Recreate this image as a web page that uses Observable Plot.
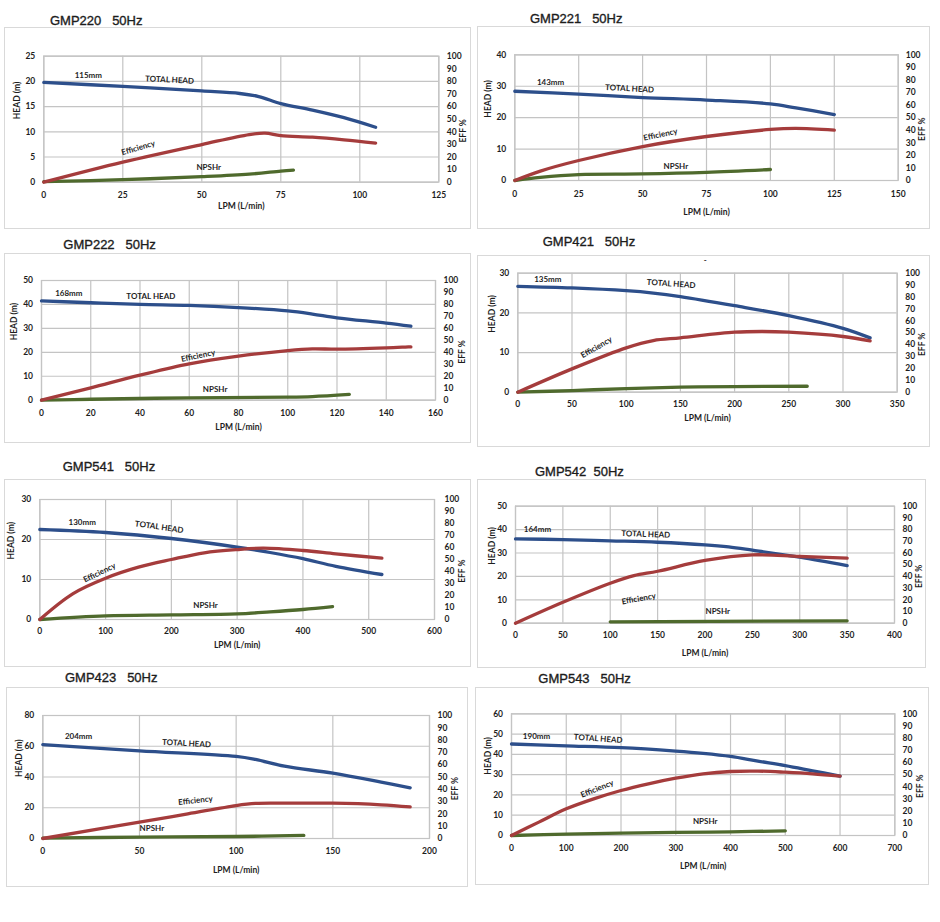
<!DOCTYPE html>
<html><head><meta charset="utf-8">
<script src="https://cdn.jsdelivr.net/npm/d3@7"></script>
<script src="https://cdn.jsdelivr.net/npm/@observablehq/plot@0.6"></script>
<style>
body{margin:0;background:#fff;}
#root{position:relative;width:940px;height:922px;overflow:hidden;background:#fff;}
.box{position:absolute;border:1.5px solid #d9d9d9;box-sizing:border-box;}
.title{position:absolute;font:13px "Liberation Sans",Arial,sans-serif;line-height:13px;color:#1c1c1c;white-space:pre;-webkit-text-stroke:0.35px #1c1c1c;}
.chart{position:absolute;}
.chart svg{overflow:visible;}
</style></head><body><div id="root"></div>
<script>
// ---------- DATA ----------
// GMP220
const GMP220_xTicks = [0,25,50,75,100,125];
const GMP220_yTicks = [0,5,10,15,20,25];
const GMP220_headLPM = [0,25,50,62,68,75,85,95,105];
const GMP220_head    = [19.8,19.0,18.1,17.6,17.0,15.6,14.3,12.8,10.9];
const GMP220_effLPM  = [0,25,50,65,70,75,85,95,105];
const GMP220_eff     = [0,15.9,29.9,37.8,38.9,37,35.7,33.6,31];
const GMP220_npshLPM = [0,25,50,65,75,79];
const GMP220_npsh    = [0.1,0.5,1.1,1.6,2.2,2.4];
// GMP221
const GMP221_xTicks = [0,25,50,75,100,125,150];
const GMP221_yTicks = [0,10,20,30,40];
const GMP221_headLPM = [0,25,50,75,100,110,125];
const GMP221_head    = [28.4,27.5,26.4,25.6,24.4,23.1,21.0];
const GMP221_effLPM  = [0,10,25,50,75,100,110,125];
const GMP221_eff     = [0,7.5,15.9,27,35,40.6,41.4,40];
const GMP221_npshLPM = [0,10,25,50,75,100];
const GMP221_npsh    = [0,1.0,1.9,2.1,2.6,3.5];
// GMP222
const GMP222_xTicks = [0,20,40,60,80,100,120,140,160];
const GMP222_yTicks = [0,10,20,30,40,50];
const GMP222_headLPM = [0,20,40,60,80,100,110,120,140,150];
const GMP222_head    = [41.5,40.7,40,39.6,38.7,37.3,36,34.4,32.2,30.9];
const GMP222_effLPM  = [0,20,40,60,80,100,110,120,140,150];
const GMP222_eff     = [0,10.3,20.9,30.4,36.8,41.5,42.9,42.6,43.7,44.6];
const GMP222_npshLPM = [0,20,60,100,110,125];
const GMP222_npsh    = [0,0.4,1.0,1.25,1.5,2.4];
// GMP421
const GMP421_xTicks = [0,50,100,150,200,250,300,350];
const GMP421_yTicks = [0,10,20,30];
const GMP421_headLPM = [0,50,100,125,150,200,250,300,325];
const GMP421_head    = [26.7,26.3,25.6,25.0,24.1,21.8,19.3,16.1,13.7];
const GMP421_effLPM  = [0,50,100,125,150,200,225,250,300,325];
const GMP421_eff     = [0,19.6,37.3,43.4,45.7,50.4,51,50.4,46.8,43.1];
const GMP421_npshLPM = [0,50,100,150,200,267];
const GMP421_npsh    = [0,0.42,0.92,1.26,1.43,1.5];
// GMP541
const GMP541_xTicks = [0,100,200,300,400,500,600];
const GMP541_yTicks = [0,10,20,30];
const GMP541_headLPM = [0,100,200,300,350,400,450,520];
const GMP541_head    = [22.5,21.75,20.25,18.1,16.75,15.2,13.3,11.25];
const GMP541_effLPM  = [0,50,100,150,200,250,300,340,400,450,520];
const GMP541_eff     = [0,21.4,34.4,43.6,50,55.6,58.3,59.4,57.5,54.7,51.1];
const GMP541_npshLPM = [0,100,200,300,350,400,445];
const GMP541_npsh    = [0,0.9,1.15,1.4,1.9,2.5,3.2];
// GMP542
const GMP542_xTicks = [0,50,100,150,200,250,300,350,400];
const GMP542_yTicks = [0,10,20,30,40,50];
const GMP542_headLPM = [0,50,100,150,200,225,250,300,350];
const GMP542_head    = [36,35.75,35.2,34.6,33.5,32.6,31.2,28.2,24.6];
const GMP542_effLPM  = [0,50,100,125,150,200,250,300,350];
const GMP542_eff     = [0,17.9,34.2,40.7,44.4,53.6,58.4,57,55.6];
const GMP542_npshLPM = [100,350];
const GMP542_npsh    = [0.6,1.0];
// GMP423
const GMP423_xTicks = [0,50,100,150,200];
const GMP423_yTicks = [0,20,40,60,80];
const GMP423_headLPM = [0,50,100,110,125,150,175,190];
const GMP423_head    = [61,57,53.4,51.4,47,42.5,36.7,33];
const GMP423_effLPM  = [0,50,75,100,110,125,150,175,190];
const GMP423_eff     = [0,13.3,20,26.8,28.5,28.7,28.7,27.4,25.7];
const GMP423_npshLPM = [0,50,100,135];
const GMP423_npsh    = [0.2,0.9,1.3,2.0];
// GMP543
const GMP543_xTicks = [0,100,200,300,400,500,600,700];
const GMP543_yTicks = [0,10,20,30,40,50,60];
const GMP543_headLPM = [0,100,200,300,350,400,450,500,550,600];
const GMP543_head    = [45.1,44.2,43.3,41.6,40.5,39,36.7,34.5,31.9,29.3];
const GMP543_effLPM  = [0,50,100,150,200,250,300,350,400,450,500,550,600];
const GMP543_eff     = [0,11,21.9,30.1,37,42.5,47.1,50.7,52.6,52.9,52,50.7,48.8];
const GMP543_npshLPM = [0,100,200,300,400,500];
const GMP543_npsh    = [0,0.66,1.15,1.5,1.8,2.3];

const effTicks = [0,10,20,30,40,50,60,70,80,90,100];

// ---------- ANNOTATIONS (anchored in data units) ----------
const GMP220_notes = [{t:"115mm",x:14.1,y:21.2,r:0},{t:"TOTAL HEAD",x:39.8,y:20.3,r:3},{t:"Efficiency",x:29.9,y:6.8,r:-16},{t:"NPSHr",x:52.2,y:2.9,r:0}];
const GMP221_notes = [{t:"143mm",x:14,y:31.2,r:0},{t:"TOTAL HEAD",x:44.9,y:29.2,r:3},{t:"Efficiency",x:57,y:14.6,r:-12},{t:"NPSHr",x:63,y:4.55,r:0}];
const GMP222_notes = [{t:"168mm",x:11.1,y:44.5,r:0},{t:"TOTAL HEAD",x:44.4,y:43.2,r:0},{t:"Efficiency",x:63.6,y:18.5,r:-12},{t:"NPSHr",x:70.5,y:4.3,r:0}];
const GMP421_notes = [{t:"135mm",x:27.7,y:28.5,r:0},{t:"TOTAL HEAD",x:141.5,y:27.3,r:4},{t:"Efficiency",x:72.6,y:11.3,r:-30},{t:"-",x:173,y:33.2,r:0}];
const GMP541_notes = [{t:"130mm",x:64.4,y:24.25,r:0},{t:"TOTAL HEAD",x:181.5,y:23.1,r:8},{t:"Efficiency",x:90.8,y:11.7,r:-26},{t:"NPSHr",x:251.9,y:3.5,r:0}];
const GMP542_notes = [{t:"164mm",x:23.2,y:40.2,r:0},{t:"TOTAL HEAD",x:137.5,y:38,r:2},{t:"Efficiency",x:130.1,y:10.4,r:-10},{t:"NPSHr",x:213.5,y:5,r:0}];
const GMP423_notes = [{t:"204mm",x:18.5,y:66.5,r:0},{t:"TOTAL HEAD",x:74.3,y:61.8,r:3},{t:"Efficiency",x:79,y:24.7,r:-6},{t:"NPSHr",x:56.4,y:6.3,r:0}];
const GMP543_notes = [{t:"190mm",x:45.7,y:49,r:0},{t:"TOTAL HEAD",x:158.3,y:47.7,r:4},{t:"Efficiency",x:156.5,y:23,r:-22},{t:"NPSHr",x:353.7,y:6.9,r:0}];

// ---------- LAYOUT (page pixels) ----------
const panels = [
 {title:"GMP220   50Hz", tx:50, tb:25, box:[4,27,471,229], plot:[43.3,55.7,438.3,181.7], hx:17, ex:463, ly:208, ty:194, rp:8,
  xT:GMP220_xTicks, yT:GMP220_yTicks, hX:GMP220_headLPM, h:GMP220_head, eX:GMP220_effLPM, e:GMP220_eff, nX:GMP220_npshLPM, n:GMP220_npsh, notes:GMP220_notes},
 {title:"GMP221   50Hz", tx:530, tb:22.7, box:[477,26,930,229], plot:[514.3,54.3,897.7,180], hx:488, ex:922, ly:214, ty:193, rp:7.5,
  xT:GMP221_xTicks, yT:GMP221_yTicks, hX:GMP221_headLPM, h:GMP221_head, eX:GMP221_effLPM, e:GMP221_eff, nX:GMP221_npshLPM, n:GMP221_npsh, notes:GMP221_notes},
 {title:"GMP222   50Hz", tx:63.3, tb:249, box:[4,253,471,443], plot:[41,280,435,399.7], hx:14, ex:462, ly:429, ty:412, rp:8,
  xT:GMP222_xTicks, yT:GMP222_yTicks, hX:GMP222_headLPM, h:GMP222_head, eX:GMP222_effLPM, e:GMP222_eff, nX:GMP222_npshLPM, n:GMP222_npsh, notes:GMP222_notes},
 {title:"GMP421   50Hz", tx:542.7, tb:246, box:[477,255,930,447], plot:[517.3,272.7,896.7,391.7], hx:492, ex:922, ly:420, ty:403, rp:8,
  xT:GMP421_xTicks, yT:GMP421_yTicks, hX:GMP421_headLPM, h:GMP421_head, eX:GMP421_effLPM, e:GMP421_eff, nX:GMP421_npshLPM, n:GMP421_npsh, notes:GMP421_notes},
 {title:"GMP541   50Hz", tx:62.7, tb:470.7, box:[4,479,471,667], plot:[39.3,499,434,619], hx:11, ex:462, ly:647, ty:630, rp:10,
  xT:GMP541_xTicks, yT:GMP541_yTicks, hX:GMP541_headLPM, h:GMP541_head, eX:GMP541_effLPM, e:GMP541_eff, nX:GMP541_npshLPM, n:GMP541_npsh, notes:GMP541_notes},
 {title:"GMP542  50Hz", tx:535, tb:476, box:[477,479,926,668], plot:[515,505.7,894,622.7], hx:492, ex:919, ly:655, ty:634, rp:8,
  xT:GMP542_xTicks, yT:GMP542_yTicks, hX:GMP542_headLPM, h:GMP542_head, eX:GMP542_effLPM, e:GMP542_eff, nX:GMP542_npshLPM, n:GMP542_npsh, notes:GMP542_notes},
 {title:"GMP423   50Hz", tx:65, tb:681.7, box:[6,687,468,887], plot:[42.3,715,429,838], hx:19, ex:455, ly:872, ty:850, rp:8,
  xT:GMP423_xTicks, yT:GMP423_yTicks, hX:GMP423_headLPM, h:GMP423_head, eX:GMP423_effLPM, e:GMP423_eff, nX:GMP423_npshLPM, n:GMP423_npsh, notes:GMP423_notes},
 {title:"GMP543   50Hz", tx:538.3, tb:683.3, box:[475,687,929,885], plot:[511,713.3,894.3,835], hx:488, ex:920, ly:868, ty:847, rp:7.7,
  xT:GMP543_xTicks, yT:GMP543_yTicks, hX:GMP543_headLPM, h:GMP543_head, eX:GMP543_effLPM, e:GMP543_eff, nX:GMP543_npshLPM, n:GMP543_npsh, notes:GMP543_notes}
];

const BLUE = "#2d4f8b", RED = "#a53c3c", GREEN = "#4f6a2d", GRID = "#c4c4c4", INK = "#1e1e1e";
const FONT = "Lato, 'Open Sans', sans-serif";
const root = document.getElementById("root");
const pts = (xs, ys) => xs.map((x, i) => ({x, y: ys[i]}));

for (const p of panels) {
  const [bl, bt, br, bb] = p.box;
  const [pl, pt, pr, pb] = p.plot;
  const box = document.createElement("div");
  box.className = "box";
  Object.assign(box.style, {left: bl + "px", top: bt + "px", width: (br - bl) + "px", height: (bb - bt) + "px"});
  root.appendChild(box);

  const title = document.createElement("div");
  title.className = "title";
  title.textContent = p.title;
  Object.assign(title.style, {left: p.tx + "px", top: (p.tb - 11) + "px"});
  root.appendChild(title);

  const xMax = p.xT[p.xT.length - 1];
  const yMax = p.yT[p.yT.length - 1];
  const effY = d => d.y * yMax / 100;
  const txt = {fontFamily: FONT, fontSize: 8.5, fontWeight: "bold", fill: INK};

  const chart = Plot.plot({
    width: br - bl, height: bb - bt,
    marginLeft: pl - bl, marginRight: br - pr, marginTop: pt - bt, marginBottom: bb - pb,
    style: {fontFamily: FONT, fontSize: "8.5px", fontWeight: "bold", color: INK, background: "transparent", overflow: "visible"},
    x: {domain: [0, xMax], axis: null},
    y: {domain: [0, yMax], axis: null},
    marks: [
      Plot.gridX(p.xT, {stroke: GRID, strokeOpacity: 1, strokeWidth: 1.2}),
      Plot.gridY(p.yT, {stroke: GRID, strokeOpacity: 1, strokeWidth: 1.2}),
      Plot.frame({stroke: GRID, strokeWidth: 1.2}),
      Plot.axisX(p.xT, {anchor: "bottom", tickSize: 0, tickPadding: p.ty - pb - 3, label: null, fill: INK}),
      Plot.axisY(p.yT, {anchor: "left", tickSize: 0, tickPadding: 8.5, label: null, fill: INK}),
      Plot.axisY(effTicks.map(v => v * yMax / 100), {anchor: "right", tickSize: 0, tickPadding: p.rp, label: null, fill: INK,
        tickFormat: v => String(Math.round(v / yMax * 100))}),
      Plot.line(pts(p.hX, p.h), {x: "x", y: "y", stroke: BLUE, strokeWidth: 3.3, curve: "catmull-rom", strokeLinecap: "round"}),
      Plot.line(pts(p.nX, p.n), {x: "x", y: "y", stroke: GREEN, strokeWidth: 3.3, curve: "catmull-rom", strokeLinecap: "round"}),
      Plot.line(pts(p.eX, p.e), {x: "x", y: effY, stroke: RED, strokeWidth: 3.3, curve: "catmull-rom", strokeLinecap: "round"}),
      Plot.text(p.notes, {x: "x", y: "y", text: "t", rotate: "r", ...txt, fontSize: 8}),
      Plot.text(["HEAD (m)"], {text: d => d, frameAnchor: "left", dx: p.hx - pl, rotate: -90, ...txt}),
      Plot.text(["EFF %"], {text: d => d, frameAnchor: "right", dx: p.ex - pr, rotate: -90, ...txt}),
      Plot.text(["LPM (L/min)"], {text: d => d, frameAnchor: "bottom", dy: p.ly - pb, ...txt})
    ]
  });
  const holder = document.createElement("div");
  holder.className = "chart";
  Object.assign(holder.style, {left: bl + "px", top: bt + "px"});
  holder.appendChild(chart);
  root.appendChild(holder);
}
</script></body></html>
